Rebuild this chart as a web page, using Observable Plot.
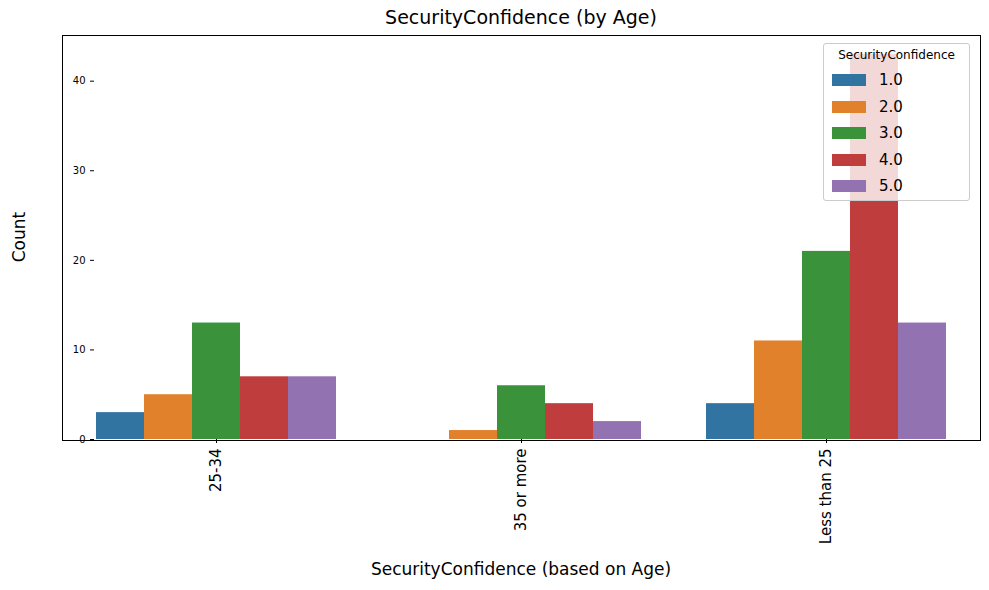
<!DOCTYPE html>
<html><head>
<script src="https://cdn.jsdelivr.net/npm/d3@7"></script>
<script src="https://cdn.jsdelivr.net/npm/@observablehq/plot@0.6"></script>
<style>
body{margin:0;font-family:"DejaVu Sans",sans-serif;background:#fff}
#wrap{position:relative;width:989px;height:590px}
#title{position:absolute;top:6px;left:62px;width:918px;text-align:center;font-size:19px}
#frame{position:absolute;left:62px;top:35px;width:917px;height:404px;border:1px solid #000;pointer-events:none}
#legend{position:absolute;left:823px;top:43px;width:147px;height:158px;background:rgba(255,255,255,0.8);border:1px solid #ccc;border-radius:3px;font-size:12px;box-sizing:border-box;padding:4px 8px}
#legend .t{font-size:12px;text-align:center;margin-bottom:5px}
#legend .r{display:flex;align-items:center;height:26.5px;font-size:15px}
#legend .s{width:34px;height:12px;margin-right:13px}
</style></head><body>
<div id="wrap"><div id="chart"></div><div id="title">SecurityConfidence (by Age)</div><div id="frame"></div><div id="legend"></div></div>
<script>
const groups = ["25-34", "35 or more", "Less than 25"]
const levels = ["1.0", "2.0", "3.0", "4.0", "5.0"]
const counts = [
  [3, 5, 13, 7, 7],
  [0, 1, 6, 4, 2],
  [4, 11, 21, 43, 13]
]
const colors = ["#3274a1", "#e1812c", "#3a923a", "#c03d3e", "#9372b2"]

let data = []
groups.forEach((g, i) => levels.forEach((l, j) => data.push({age: g, level: l, count: counts[i][j]})))

let chart = Plot.plot({
  width: 989, height: 590,
  marginLeft: 62, marginRight: 10, marginTop: 35, marginBottom: 151,
  style: {fontFamily: "DejaVu Sans", fontSize: "10px", color: "#000"},
  fx: {domain: groups, paddingInner: 0.2, paddingOuter: 0.1, label: null, tickRotate: -90, tickSize: 4},
  x: {domain: levels, padding: 0, axis: null},
  y: {domain: [0, 45.1], ticks: [0, 10, 20, 30, 40], label: null, tickSize: 4},
  color: {domain: levels, range: colors},
  marks: [
    Plot.barY(data, {fx: "age", x: "level", y: "count", fill: "level", inset: 0})
  ]
})
d3.select(chart).selectAll("g[aria-label='fx-axis tick label'] text").style("font-size", "15px")
d3.select('#chart').append(() => chart)

const svg = d3.select(chart)
svg.append("text").attr("x", 521).attr("y", 575).attr("text-anchor", "middle").style("font-size", "17px").text("SecurityConfidence (based on Age)")
svg.append("text").attr("transform", "translate(25,237) rotate(-90)").attr("text-anchor", "middle").style("font-size", "17px").text("Count")

const lg = d3.select('#legend')
lg.append("div").attr("class", "t").text("SecurityConfidence")
levels.forEach((l, j) => {
  const r = lg.append("div").attr("class", "r")
  r.append("div").attr("class", "s").style("background", colors[j])
  r.append("span").text(l)
})
</script>
</body></html>
